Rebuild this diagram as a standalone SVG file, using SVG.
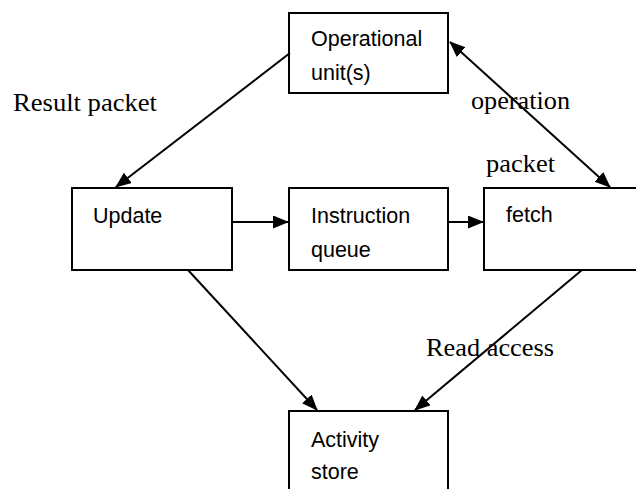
<svg xmlns="http://www.w3.org/2000/svg" width="636" height="489" viewBox="0 0 636 489">
<style>
.box{fill:#fff;stroke:#000;stroke-width:2}
.t{font-family:"Liberation Sans",Arial,sans-serif;font-size:21.5px;fill:#000}
.l{font-family:"Liberation Serif","Times New Roman",serif;font-size:25px;fill:#000}
.c{stroke:#000;stroke-width:2;fill:none}
</style>
<defs>
<marker id="ah" markerUnits="userSpaceOnUse" markerWidth="16" markerHeight="14" refX="15" refY="6.5" orient="auto-start-reverse" viewBox="0 0 16 14">
<path d="M0,0 L16,6.5 L0,13 z" fill="#000"/>
</marker>
</defs>
<rect width="636" height="489" fill="#fff"/>
<g id="op"><rect class="box" x="289" y="13" width="159" height="80"/><text class="t" x="311" y="46">Operational</text><text class="t" x="311" y="80">unit(s)</text></g>
<g id="update"><rect class="box" x="72" y="188" width="160" height="82"/><text class="t" x="93" y="223">Update</text></g>
<g id="iq"><rect class="box" x="289" y="188" width="159" height="82"/><text class="t" x="311" y="223">Instruction</text><text class="t" x="311" y="257">queue</text></g>
<g id="fetch"><rect class="box" x="484" y="188" width="160" height="82"/><text class="t" x="506" y="222">fetch</text></g>
<g id="store"><rect class="box" x="289" y="411" width="159" height="90"/><text class="t" x="311" y="447">Activity</text><text class="t" x="311" y="479">store</text></g>
<g id="connectors">
<line class="c" x1="290" y1="53" x2="116" y2="187" marker-end="url(#ah)"/>
<line class="c" x1="450" y1="42" x2="610" y2="187" marker-start="url(#ah)" marker-end="url(#ah)"/>
<line class="c" x1="232" y1="222" x2="288" y2="222" marker-end="url(#ah)"/>
<line class="c" x1="448" y1="222" x2="483" y2="222" marker-end="url(#ah)"/>
<line class="c" x1="188" y1="270" x2="317" y2="410" marker-end="url(#ah)"/>
<line class="c" x1="582" y1="270" x2="415" y2="410" marker-end="url(#ah)"/>
</g>
<g id="labels">
<text class="l" x="13" y="111" textLength="144" lengthAdjust="spacingAndGlyphs">Result packet</text>
<text class="l" x="471" y="109" textLength="99" lengthAdjust="spacingAndGlyphs">operation</text>
<text class="l" x="486" y="172" textLength="69" lengthAdjust="spacingAndGlyphs">packet</text>
<text class="l" x="426" y="356" textLength="128" lengthAdjust="spacingAndGlyphs">Read access</text>
</g>
</svg>
